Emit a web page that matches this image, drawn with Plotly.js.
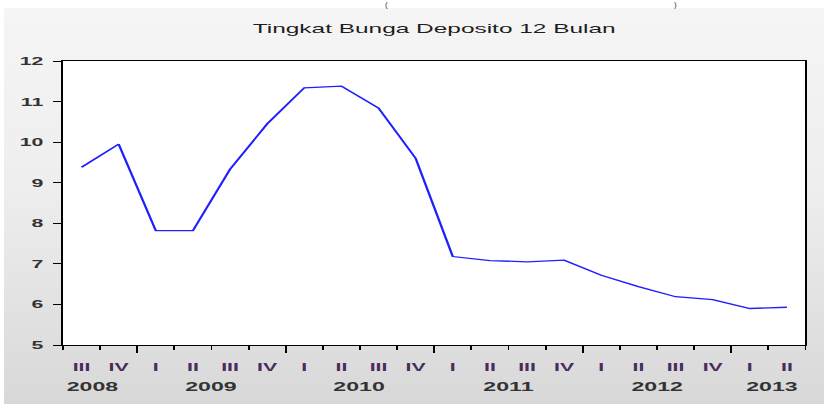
<!DOCTYPE html>
<html>
<head>
<meta charset="utf-8">
<script src="https://cdn.plot.ly/plotly-3.0.1.min.js"></script>
<style>
html,body{margin:0;padding:0;background:#fff;}
#wrap{position:relative;width:824px;height:404px;overflow:hidden;background:#fff;}
#bg{position:absolute;left:4px;top:8px;right:0;bottom:0;background:linear-gradient(to bottom,#f5f5f5 0%,#eeeeee 45%,#d8d8d8 100%);}
#chart{position:absolute;left:0;top:0;width:445px;height:404px;transform:scaleX(1.85169);transform-origin:0 0;}
.paren{position:absolute;top:0px;line-height:10px;font-family:"Liberation Sans",Arial,sans-serif;font-size:8px;color:#333;}
</style>
</head>
<body>
<div id="wrap">
  <div id="bg"></div>
  <span class="paren" style="left:385px;">(</span>
  <span class="paren" style="left:674px;">)</span>
  <div id="chart"></div>
</div>
<script>
// Quarterly data, 2008 Q3 .. 2013 Q2
const quarterIndex = [0,1,2,3,4,5,6,7,8,9,10,11,12,13,14,15,16,17,18,19];
const quarterLabels = ["III","IV","I","II","III","IV","I","II","III","IV","I","II","III","IV","I","II","III","IV","I","II"];
const depositRate = [9.38,9.95,7.82,7.82,9.33,10.45,11.34,11.38,10.84,9.60,7.18,7.08,7.05,7.09,6.72,6.44,6.19,6.12,5.90,5.93];
const yearLabels = ["2008","2009","2010","2011","2012","2013"];
const yearLabelPos = [0.3,3.5,7.5,11.5,15.5,18.6];
const quarterBounds = [-0.5,0.5,1.5,2.5,3.5,4.5,5.5,6.5,7.5,8.5,9.5,10.5,11.5,12.5,13.5,14.5,15.5,16.5,17.5,18.5,19.5];
const yearBounds = [1.5,5.5,9.5,13.5,17.5];
const yTicks = [5,6,7,8,9,10,11,12];

const xr = [-0.5, 19.5];
const fontFam = '"Liberation Sans", Arial, sans-serif';

const trace = {
  x: quarterIndex, y: depositRate, type: 'scatter', mode: 'lines',
  line: {color: '#2020ff', width: 1.3}, hoverinfo: 'skip'
};

const annotations = yearLabels.map((t,i)=>({
  text: t, x: yearLabelPos[i], xref: 'x', y: -0.148, yref: 'paper',
  yanchor: 'middle', xanchor: 'center', showarrow: false,
  font: {family: fontFam, size: 12.5, color: '#333', weight: 'bold'}
}));

const layout = {
  width: 445, height: 404,
  margin: {l: 34, r: 9.5, t: 61, b: 59},
  paper_bgcolor: 'rgba(0,0,0,0)', plot_bgcolor: '#ffffff',
  showlegend: false,
  title: {text: 'Tingkat Bunga Deposito 12 Bulan', x: 0.5, xref: 'paper', xanchor: 'center',
          y: 1 - 28/404, yref: 'container', yanchor: 'middle',
          font: {family: fontFam, size: 13.2, color: '#1e1e1e'}},
  xaxis: {
    range: xr, tickmode: 'array', tickvals: quarterIndex, ticktext: quarterLabels,
    ticks: '', ticklabelstandoff: 11, showgrid: false, zeroline: false,
    showline: true, linecolor: '#000', linewidth: 1, mirror: true,
    tickfont: {family: fontFam, size: 11.5, color: '#4a2c5c', weight: 'bold'}
  },
  xaxis2: {
    range: xr, overlaying: 'x', anchor: 'y', side: 'bottom',
    tickmode: 'array', tickvals: quarterBounds, ticks: 'outside', ticklen: 4,
    tickcolor: '#000', tickwidth: 1, showticklabels: false, showgrid: false,
    zeroline: false, showline: false
  },
  xaxis3: {
    range: xr, overlaying: 'x', anchor: 'y', side: 'bottom',
    tickmode: 'array', tickvals: yearBounds, ticks: 'outside', ticklen: 7,
    tickcolor: '#000', tickwidth: 1, showticklabels: false, showgrid: false,
    zeroline: false, showline: false
  },
  yaxis: {
    range: [5, 12], tickmode: 'array', tickvals: yTicks, ticks: 'outside', ticklen: 4.3,
    tickcolor: '#000', tickwidth: 1, ticklabelstandoff: 3,
    showgrid: false, zeroline: false, showline: true, linecolor: '#000', linewidth: 1, mirror: true,
    tickfont: {family: fontFam, size: 11.5, color: '#333', weight: 'bold'}
  },
  annotations: annotations
};

Plotly.newPlot('chart', [trace,
  {x: xr, y: [5,5], xaxis: 'x2', type: 'scatter', mode: 'lines', line: {width: 0}, hoverinfo: 'skip'},
  {x: xr, y: [5,5], xaxis: 'x3', type: 'scatter', mode: 'lines', line: {width: 0}, hoverinfo: 'skip'}
], layout, {displayModeBar: false, staticPlot: true});
</script>
</body>
</html>
